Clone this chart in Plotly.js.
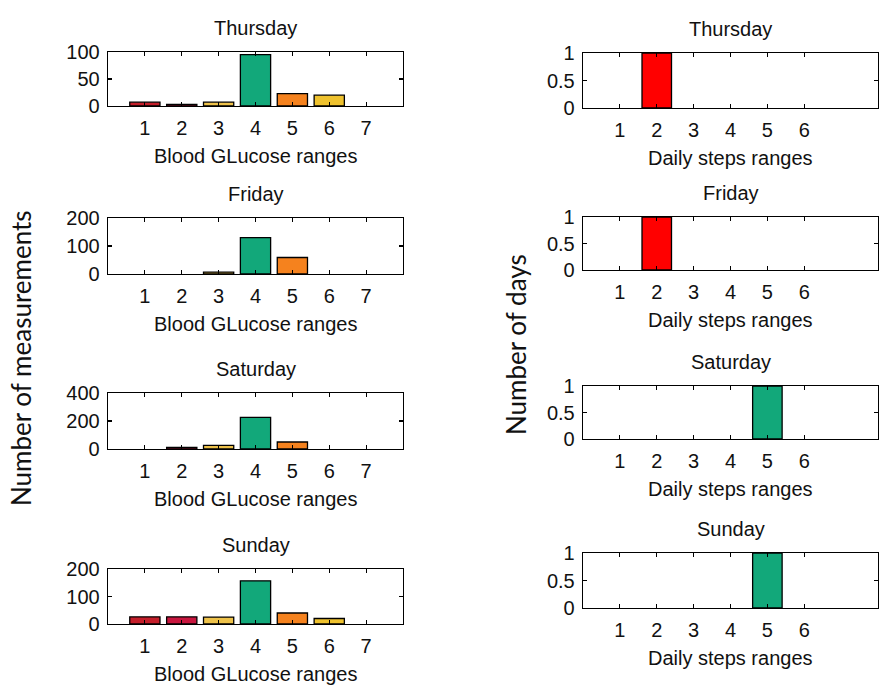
<!DOCTYPE html>
<html>
<head>
<meta charset="utf-8">
<script src="https://cdn.plot.ly/plotly-3.0.1.min.js"></script>
<style>
  html, body { margin: 0; padding: 0; background: #ffffff; }
  #chart { width: 883px; height: 687px; }
</style>
</head>
<body>
<div id="chart"></div>
<script>
// Weekly summary: blood glucose range counts (left) and daily steps range counts (right)
const days = ['Thursday', 'Friday', 'Saturday', 'Sunday'];

// Blood glucose ranges 1..7
const glucoseRanges = [1, 2, 3, 4, 5, 6, 7];
const glucoseThursday = [7, 3, 7, 95, 23, 20, 0];
const glucoseFriday   = [0, 0, 7, 130, 59, 0, 0];
const glucoseSaturday = [0, 12, 26, 226, 50, 0, 0];
const glucoseSunday   = [26, 26, 25, 157, 40, 20, 0];
const glucoseColors = ['#C41E2A', '#C8163E', '#EEC24A', '#12A87A', '#F5821E', '#EFC22E', '#EFC22E'];
const glucoseYTicks = [[0, 50, 100], [0, 100, 200], [0, 200, 400], [0, 100, 200]];

// Daily steps ranges 1..6
const stepRanges = [1, 2, 3, 4, 5, 6];
const stepsThursday = [0, 1, 0, 0, 0, 0];
const stepsFriday   = [0, 1, 0, 0, 0, 0];
const stepsSaturday = [0, 0, 0, 0, 1, 0];
const stepsSunday   = [0, 0, 0, 0, 1, 0];
const stepColors = ['#FF0000', '#FF0000', '#FF0000', '#12A87A', '#12A87A', '#12A87A'];
const stepYTicks = [0, 0.5, 1];
const stepYTickText = ['0', '0.5', '1'];

const glucoseSeries = [glucoseThursday, glucoseFriday, glucoseSaturday, glucoseSunday];
const stepSeries = [stepsThursday, stepsFriday, stepsSaturday, stepsSunday];

// Page geometry (pixels) for each axes box: [left, top, right, bottom]
const W = 883, H = 687;
const leftBoxes = [[108, 52, 403, 106], [108, 218, 403, 274], [108, 393, 403, 449], [108, 569, 403, 624]];
const rightBoxes = [[583, 53, 878, 108], [583, 217, 878, 270], [583, 386, 878, 439], [583, 553, 878, 608]];

const tickFont = { family: 'Liberation Sans, Arial, sans-serif', size: 20, color: '#111111' };
const labelFont = { family: 'Lato, Open Sans, sans-serif', size: 26, color: '#111111' };

// Empty ranges are left out so no flat bar sits on the axis
const nonZero = (arr) => arr.map(v => (v === 0 ? null : v));

const data = [];
const layout = {
  width: W, height: H,
  margin: { l: 0, r: 0, t: 0, b: 0 },
  paper_bgcolor: '#ffffff',
  plot_bgcolor: '#ffffff',
  showlegend: false,
  annotations: [],
};

function axisPair(idx, box, xRange, xTicks, yRange, yTicks, yTickText) {
  const xa = idx === 1 ? 'xaxis' : 'xaxis' + idx;
  const ya = idx === 1 ? 'yaxis' : 'yaxis' + idx;
  const common = {
    showline: true, linecolor: '#000000', linewidth: 1.3,
    mirror: 'ticks', ticks: 'inside', ticklen: 4, tickwidth: 1.2, tickcolor: '#000000',
    showgrid: false, zeroline: false, fixedrange: true,
    tickfont: tickFont,
  };
  layout[xa] = Object.assign({}, common, {
    domain: [box[0] / W, box[2] / W],
    anchor: 'y' + (idx === 1 ? '' : idx),
    range: xRange, tickmode: 'array', tickvals: xTicks,
    ticklabelstandoff: 4,
  });
  layout[ya] = Object.assign({}, common, {
    domain: [1 - box[3] / H, 1 - box[1] / H],
    anchor: 'x' + (idx === 1 ? '' : idx),
    range: yRange, tickmode: 'array', tickvals: yTicks,
    ticktext: yTickText || yTicks.map(String),
    ticklabelstandoff: 3,
  });
}

function addText(text, xPx, yPx, font, angle) {
  layout.annotations.push({
    text: text, xref: 'paper', yref: 'paper',
    x: xPx / W, y: 1 - yPx / H,
    xanchor: 'center', yanchor: 'middle',
    showarrow: false, font: font, textangle: angle || 0,
  });
}

days.forEach((day, i) => {
  // Left column: blood glucose
  const li = i + 1;
  const lb = leftBoxes[i];
  axisPair(li, lb, [0, 8], glucoseRanges, [0, glucoseYTicks[i][2]], glucoseYTicks[i]);
  data.push({
    type: 'bar', x: glucoseRanges, y: nonZero(glucoseSeries[i]),
    xaxis: 'x' + (li === 1 ? '' : li), yaxis: 'y' + (li === 1 ? '' : li),
    width: 0.82,
    marker: { color: glucoseColors, line: { color: '#000000', width: 1.3 } },
    hoverinfo: 'x+y',
  });
  addText(day, (lb[0] + lb[2]) / 2, lb[1] - 24, tickFont);
  addText('Blood GLucose ranges', (lb[0] + lb[2]) / 2, lb[3] + 50, tickFont);

  // Right column: daily steps
  const ri = i + 5;
  const rb = rightBoxes[i];
  axisPair(ri, rb, [0, 8], stepRanges, [0, 1], stepYTicks, stepYTickText);
  data.push({
    type: 'bar', x: stepRanges, y: nonZero(stepSeries[i]),
    xaxis: 'x' + ri, yaxis: 'y' + ri,
    width: 0.8,
    marker: { color: stepColors, line: { color: '#000000', width: 1.3 } },
    hoverinfo: 'x+y',
  });
  addText(day, (rb[0] + rb[2]) / 2, rb[1] - 24, tickFont);
  addText('Daily steps ranges', (rb[0] + rb[2]) / 2, rb[3] + 50, tickFont);
});

// Shared y-axis labels for each column
addText('Number of measurements', 21, 358, labelFont, -90);
addText('Number of days', 516, 345, labelFont, -90);

Plotly.newPlot('chart', data, layout, { displayModeBar: false, staticPlot: true });
</script>
</body>
</html>
